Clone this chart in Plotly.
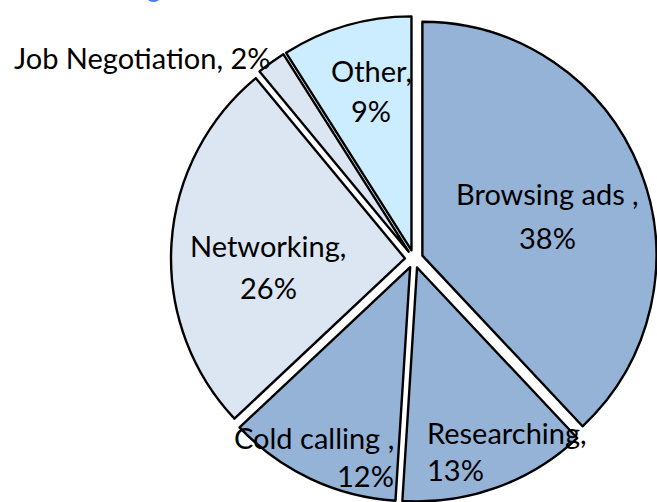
import plotly.graph_objects as go

# ---- data ----
categories = ["Browsing ads ,", "Researching,", "Cold calling ,", "Networking,", "Job Negotiation,", "Other,"]
values = [38, 13, 12, 26, 2, 9]
colors = ["#95B3D7", "#95B3D7", "#95B3D7", "#DCE6F2", "#DCE6F2", "#CCECFF"]

W, H = 657, 502
FONT = "Lato"
FS = 29

fig = go.Figure()
fig.add_trace(go.Pie(
    labels=categories,
    values=values,
    sort=False,
    direction="clockwise",
    rotation=0,
    pull=[0.0385] * len(values),
    marker=dict(colors=colors, line=dict(color="#000000", width=2.4)),
    textinfo="none",
    hoverinfo="label+percent",
    showlegend=False,
    domain=dict(x=[171 / W, 1.0], y=[0.0, 1 - 16 / H]),
))

def px(x, y):
    return x / W, 1 - y / H

# label placement (text only; slices are drawn by the pie trace)
# (x, y line1, y line2, xanchor)
label_pos = {
    "Browsing ads ,": (547, 193, 237, "center"),
    "Researching,": (425, 432, 469, "left"),
    "Cold calling ,": (396, 437, 475, "right"),
    "Networking,": (268, 245, 287, "center"),
    "Other,": (371, 70, 110, "center"),
}
tfont = dict(family=FONT, size=FS, color="#000000")
for cat, val in zip(categories, values):
    if cat == "Job Negotiation,":
        x, y = px(273, 57)
        fig.add_annotation(x=x, y=y, xref="paper", yref="paper", text=f"{cat} {val}%",
                           showarrow=False, xanchor="right", yanchor="middle", font=tfont)
        continue
    lx, ly1, ly2, xa = label_pos[cat]
    for txt, ly in ((cat, ly1), (f"{val}%", ly2)):
        x, y = px(lx, ly)
        fig.add_annotation(x=x, y=y, xref="paper", yref="paper", text=txt,
                           showarrow=False, xanchor=xa, yanchor="middle", font=tfont)

# small blue fragment of a cropped title at the top edge
fig.add_shape(type="circle", xref="paper", yref="paper",
              x0=145 / W, x1=162 / W, y0=1 - 2 / H, y1=1 + 14 / H,
              fillcolor="#3D7FE6", line=dict(width=0))

fig.update_layout(
    width=W, height=H,
    margin=dict(l=0, r=0, t=0, b=0),
    paper_bgcolor="#FFFFFF",
    plot_bgcolor="#FFFFFF",
)

fig.write_html("out.html")
